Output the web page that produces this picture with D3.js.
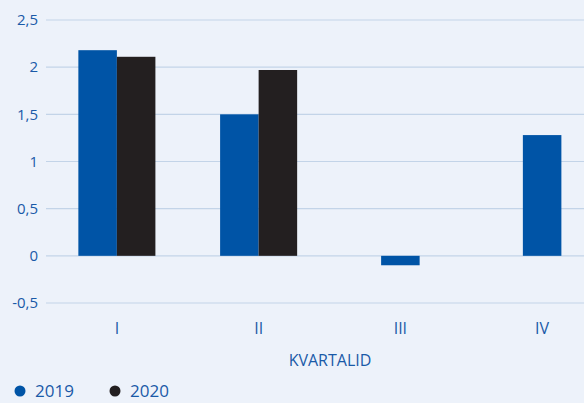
<!DOCTYPE html>
<html>
<head>
<meta charset="utf-8">
<script src="https://cdn.jsdelivr.net/npm/d3@7"></script>
<style>
  html, body { margin: 0; padding: 0; background: #edf2fa; overflow: hidden; }
  text { font-family: "Open Sans", "Noto Sans", sans-serif; fill: #1a5aa8; }
</style>
</head>
<body>
<svg></svg>
<script>
window.onload = function() {
    var width = 584,
	height = 403;

    var quarters = ['I', 'II', 'III', 'IV'],
	years = ['2019', '2020'],
	values2019 = [2.18, 1.50, -0.10, 1.28],
	values2020 = [2.11, 1.97, null, null],
	yTicks = [-0.5, 0, 0.5, 1, 1.5, 2, 2.5],
	color = {'2019': '#0054a6', '2020': '#231f20'};

    var series = {'2019': values2019, '2020': values2020};

    var svg = d3.select("svg")
	.attr("width", width)
	.attr("height", height);

    svg.append("rect")
	.attr("width", width).attr("height", height)
	.attr("fill", "#edf2fa");

    var y = d3.scaleLinear().domain([-0.5, 2.5]).range([303, 20]);

    var x0 = d3.scaleBand().domain(quarters).range([46, 613]).padding(0);
    var x1 = d3.scaleBand().domain(years).range([0, x0.bandwidth()]).paddingOuter(0.84);

    // grid lines + y labels
    var grid = svg.append("g");
    grid.selectAll("line")
	.data(yTicks)
	.enter().append("line")
	.attr("x1", 46).attr("x2", width)
	.attr("y1", function(d) { return y(d); })
	.attr("y2", function(d) { return y(d); })
	.attr("stroke", "#c3d4e8")
	.attr("stroke-width", 1.2);

    grid.selectAll("text")
	.data(yTicks)
	.enter().append("text")
	.attr("x", 38)
	.attr("y", function(d) { return y(d); })
	.attr("dy", "0.35em")
	.attr("text-anchor", "end")
	.style("font-size", "15px")
	.text(function(d) { return String(d).replace('.', ','); });

    // bars (a lone value in a quarter is centred on the tick)
    quarters.forEach(function(q, i) {
	var present = years.filter(function(yr) { return series[yr][i] != null; });
	present.forEach(function(yr) {
	    var v = series[yr][i];
	    var bx = x0(q) + x1(yr);
	    if (present.length == 1) bx = x0(q) + (x0.bandwidth() - x1.bandwidth()) / 2;
	    svg.append("rect")
		.attr("x", bx)
		.attr("width", x1.bandwidth())
		.attr("y", y(Math.max(0, v)))
		.attr("height", Math.abs(y(v) - y(0)))
		.attr("fill", color[yr]);
	});
    });

    // x labels
    svg.selectAll(".xl")
	.data(quarters)
	.enter().append("text")
	.attr("class", "xl")
	.attr("x", function(d) { return x0(d) + x0.bandwidth() / 2; })
	.attr("y", 334)
	.attr("text-anchor", "middle")
	.style("font-size", "16px")
	.text(function(d) { return d; });

    svg.append("text")
	.attr("x", 330).attr("y", 366)
	.attr("text-anchor", "middle")
	.style("font-size", "16px")
	.text("KVARTALID");

    // legend
    var leg = svg.selectAll(".leg")
	.data(years)
	.enter().append("g")
	.attr("class", "leg")
	.attr("transform", function(d, i) { return "translate(" + (20 + i * 95) + ",391)"; });
    leg.append("circle")
	.attr("r", 5.5)
	.attr("fill", function(d) { return color[d]; });
    leg.append("text")
	.attr("x", 15)
	.attr("dy", "0.35em")
	.style("font-size", "17px")
	.text(function(d) { return d; });
}
</script>
</body>
</html>
